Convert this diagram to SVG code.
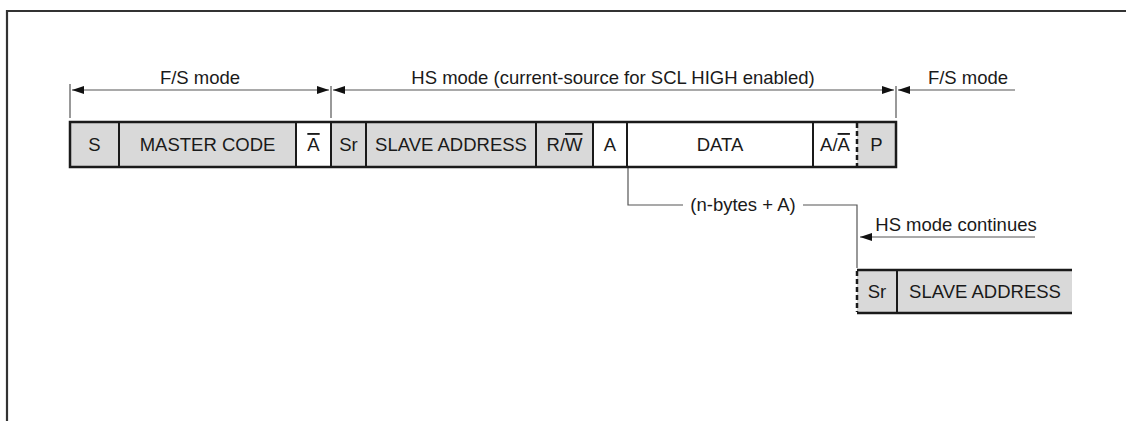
<svg xmlns="http://www.w3.org/2000/svg" width="1126" height="421" viewBox="0 0 1126 421">
<defs>
<style>
text{font-family:"Liberation Sans",Arial,sans-serif;font-size:18.5px;fill:#1a1a1a}
.lbl{text-anchor:middle}
.g{fill:#d9d9d9;stroke:none}
.w{fill:#ffffff;stroke:none}
.edge{stroke:#1a1a1a;stroke-width:2.5;fill:none}
.div{stroke:#1a1a1a;stroke-width:2;fill:none}
.dash{stroke:#1a1a1a;stroke-width:2.5;fill:none;stroke-dasharray:5 3}
.thin{stroke:#555;stroke-width:1.2;fill:none}
.arr{stroke:#555;stroke-width:1.2;fill:none;marker-end:url(#ah)}
.ov{text-decoration:overline}
</style>
<marker id="ah" viewBox="0 0 12 8" refX="12" refY="4" markerWidth="12" markerHeight="8" markerUnits="userSpaceOnUse" orient="auto">
<path d="M0,0 L12,4 L0,8 z" fill="#111"/>
</marker>
</defs>
<rect width="1126" height="421" fill="#fff"/>
<path d="M7,421 V11 H1126" stroke="#333" stroke-width="2.2" fill="none"/>

<g id="connectors">
<line class="thin" x1="70" y1="84" x2="70" y2="118"/>
<line class="thin" x1="331" y1="86" x2="331" y2="118"/>
<line class="thin" x1="896" y1="86" x2="896" y2="118"/>
<line class="arr" x1="200" y1="90" x2="72" y2="90"/>
<line class="arr" x1="200" y1="90" x2="329" y2="90"/>
<line class="arr" x1="612" y1="90" x2="333" y2="90"/>
<line class="arr" x1="612" y1="90" x2="894" y2="90"/>
<line class="arr" x1="1015" y1="90" x2="898" y2="90"/>
<path class="thin" d="M628,167 V205 H683"/>
<path class="thin" d="M803,205 H857 V268"/>
<line class="arr" x1="1035" y1="237" x2="860" y2="237"/>
</g>

<g id="labels">
<text class="lbl" x="200" y="84">F/S mode</text>
<text class="lbl" x="613" y="84">HS mode (current-source for SCL HIGH enabled)</text>
<text class="lbl" x="968" y="84">F/S mode</text>
<text class="lbl" x="743" y="211">(n-bytes + A)</text>
<text class="lbl" x="956" y="231">HS mode continues</text>
</g>

<g id="frame1">
<g id="f-S"><rect class="g" x="70" y="122" width="49" height="45"/><text class="lbl" x="94.5" y="151">S</text></g>
<g id="f-MC"><rect class="g" x="119" y="122" width="177" height="45"/><text class="lbl" x="207.5" y="151">MASTER CODE</text></g>
<g id="f-NA"><rect class="w" x="296" y="122" width="35" height="45"/><text class="lbl" x="313.5" y="151"><tspan class="ov">A</tspan></text></g>
<g id="f-Sr"><rect class="g" x="331" y="122" width="35" height="45"/><text class="lbl" x="348.5" y="151">Sr</text></g>
<g id="f-SA"><rect class="g" x="366" y="122" width="170" height="45"/><text class="lbl" x="451" y="151">SLAVE ADDRESS</text></g>
<g id="f-RW"><rect class="g" x="536" y="122" width="57" height="45"/><text class="lbl" x="564.5" y="151">R/<tspan class="ov">W</tspan></text></g>
<g id="f-A"><rect class="w" x="593" y="122" width="34" height="45"/><text class="lbl" x="610" y="151">A</text></g>
<g id="f-DATA"><rect class="w" x="627" y="122" width="186" height="45"/><text class="lbl" x="720" y="151">DATA</text></g>
<g id="f-AA"><rect class="w" x="813" y="122" width="44" height="45"/><text class="lbl" x="835" y="151">A/<tspan class="ov">A</tspan></text></g>
<g id="f-P"><rect class="g" x="857" y="122" width="39" height="45"/><text class="lbl" x="876.5" y="151">P</text></g>
<rect class="edge" x="70" y="122" width="826" height="45"/>
<path class="div" d="M119,122V167 M296,122V167 M331,122V167 M366,122V167 M536,122V167 M593,122V167 M627,122V167 M813,122V167"/>
<line class="dash" x1="857" y1="123" x2="857" y2="166"/>
</g>

<g id="frame2">
<g id="f2-Sr"><rect class="g" x="857" y="270" width="40" height="43"/><text class="lbl" x="877" y="298">Sr</text></g>
<g id="f2-SA"><rect class="g" x="897" y="270" width="175" height="43"/><text class="lbl" x="985" y="298">SLAVE ADDRESS</text></g>
<path class="edge" d="M857,270 H1072 M857,313 H1072"/>
<line class="div" x1="897" y1="270" x2="897" y2="313"/>
<line class="dash" x1="857" y1="271" x2="857" y2="312"/>
</g>
</svg>
